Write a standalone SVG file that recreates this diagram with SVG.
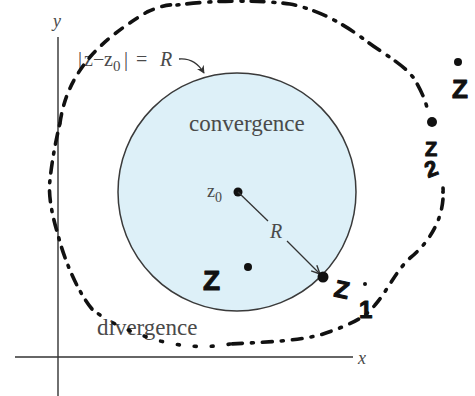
<svg xmlns="http://www.w3.org/2000/svg" width="475" height="396" viewBox="0 0 475 396">
<style>
.lbl{font-family:"Liberation Serif","DejaVu Serif",serif;fill:#4a4a4a}
.it{font-style:italic}
.hand{font-family:"Liberation Sans","DejaVu Sans",sans-serif;font-weight:bold;fill:#111;stroke:#111;stroke-width:1;stroke-linejoin:round}
.curve{fill:none;stroke:#111;stroke-width:3.6;stroke-linecap:round}
.axis{stroke:#333;stroke-width:1.4;fill:none}
</style>
<defs>
<marker id="ah" viewBox="0 0 10 10" refX="9.5" refY="5" markerWidth="10" markerHeight="10" orient="auto" markerUnits="userSpaceOnUse">
<path d="M1,1 L9.5,5 L1,9" fill="none" stroke="#333" stroke-width="1.4"/>
</marker>
<marker id="ah2" viewBox="0 0 10 10" refX="9" refY="5" markerWidth="8" markerHeight="8" orient="auto" markerUnits="userSpaceOnUse">
<path d="M0,0 L10,5 L0,10 L3,5 Z" fill="#333"/>
</marker>
</defs>
<rect width="475" height="396" fill="#fff"/>
<g id="axes">
<line class="axis" x1="58" y1="37" x2="58" y2="396"/>
<line class="axis" x1="15" y1="357" x2="353" y2="357"/>
<text class="lbl it" x="53" y="27" font-size="18">y</text>
<text class="lbl it" x="358" y="364" font-size="18">x</text>
</g>
<g id="disk">
<circle cx="237" cy="192" r="119" fill="#ddf0f8" stroke="#3a3a3a" stroke-width="1.5"/>
<text class="lbl" x="189" y="131" font-size="23">convergence</text>
</g>
<g id="center">
<circle cx="238" cy="192" r="4.5" fill="#111"/>
<text class="lbl" x="207" y="197" font-size="18">z<tspan font-size="14" dy="5">0</tspan></text>
</g>
<g id="modulus-label">
<text class="lbl" y="66" font-size="20"><tspan x="78">|</tspan><tspan x="84">z</tspan><tspan x="93">−</tspan><tspan x="104">z</tspan><tspan x="113" font-size="15" dy="5">0</tspan><tspan x="124" dy="-5">|</tspan><tspan x="136">=</tspan><tspan x="160" class="it">R</tspan></text>
</g>
<g id="divergence">
<text class="lbl" x="97" y="335" font-size="23">divergence</text>
</g>
<g id="connectors">
<path d="M179,59 C190,58 198,63 204,73" fill="none" stroke="#333" stroke-width="1.3" marker-end="url(#ah2)"/>
<line x1="238" y1="192" x2="268" y2="221" stroke="#333" stroke-width="1.3"/>
<line x1="287" y1="241" x2="320" y2="274" stroke="#333" stroke-width="1.3" marker-end="url(#ah)"/>
<text class="lbl it" x="270" y="238" font-size="20">R</text>
</g>
<g id="boundary">
<path class="curve" stroke-dasharray="9 9" d="M60,123 C64,95 75,75 90,57 C105,40 125,25 147,12 C160,6 170,4 177,5"/>
<path class="curve" stroke-dasharray="2 8 13 9" d="M177,5 C215,0 260,0 290,4 C320,10 345,25 365,40 C385,55 405,65 415,80 C422,92 426,102 428,112"/>
<path class="curve" stroke-dasharray="2 9 10 9" d="M443,188 C445,215 432,240 410,258 C395,272 388,290 375,305 C365,318 350,325 320,335 C295,341 270,342 230,344"/>
<path class="curve" stroke-dasharray="2 15" d="M230,344 C210,348 180,348 150,338 C125,330 105,320 92,309"/>
<path class="curve" stroke-dasharray="11 8 2 8" d="M92,309 C78,292 65,262 58,235 C52,215 48,195 50,180 C52,160 56,140 60,123"/>
</g>
<g id="z">
<circle cx="248" cy="267" r="4" fill="#111"/>
<text class="hand" x="203" y="290" font-size="28">Z</text>
</g>
<g id="z-top">
<circle cx="458" cy="62" r="4" fill="#111"/>
<text class="hand" x="452" y="98" font-size="26">Z</text>
</g>
<g id="z2">
<circle cx="432" cy="122" r="5" fill="#111"/>
<text class="hand" x="425" y="156" font-size="20">Z</text>
<text class="hand" font-size="22" transform="translate(428,178) rotate(-20)">2</text>
<circle cx="443" cy="192" r="2" fill="#111"/>
</g>
<g id="z1">
<circle cx="323" cy="277" r="5.5" fill="#111"/>
<text class="hand" font-size="24" transform="translate(333,296) rotate(12)">Z</text>
<circle cx="365" cy="284" r="2" fill="#111"/>
<text class="hand" font-size="24" x="359" y="318">1</text>
</g>
</svg>
